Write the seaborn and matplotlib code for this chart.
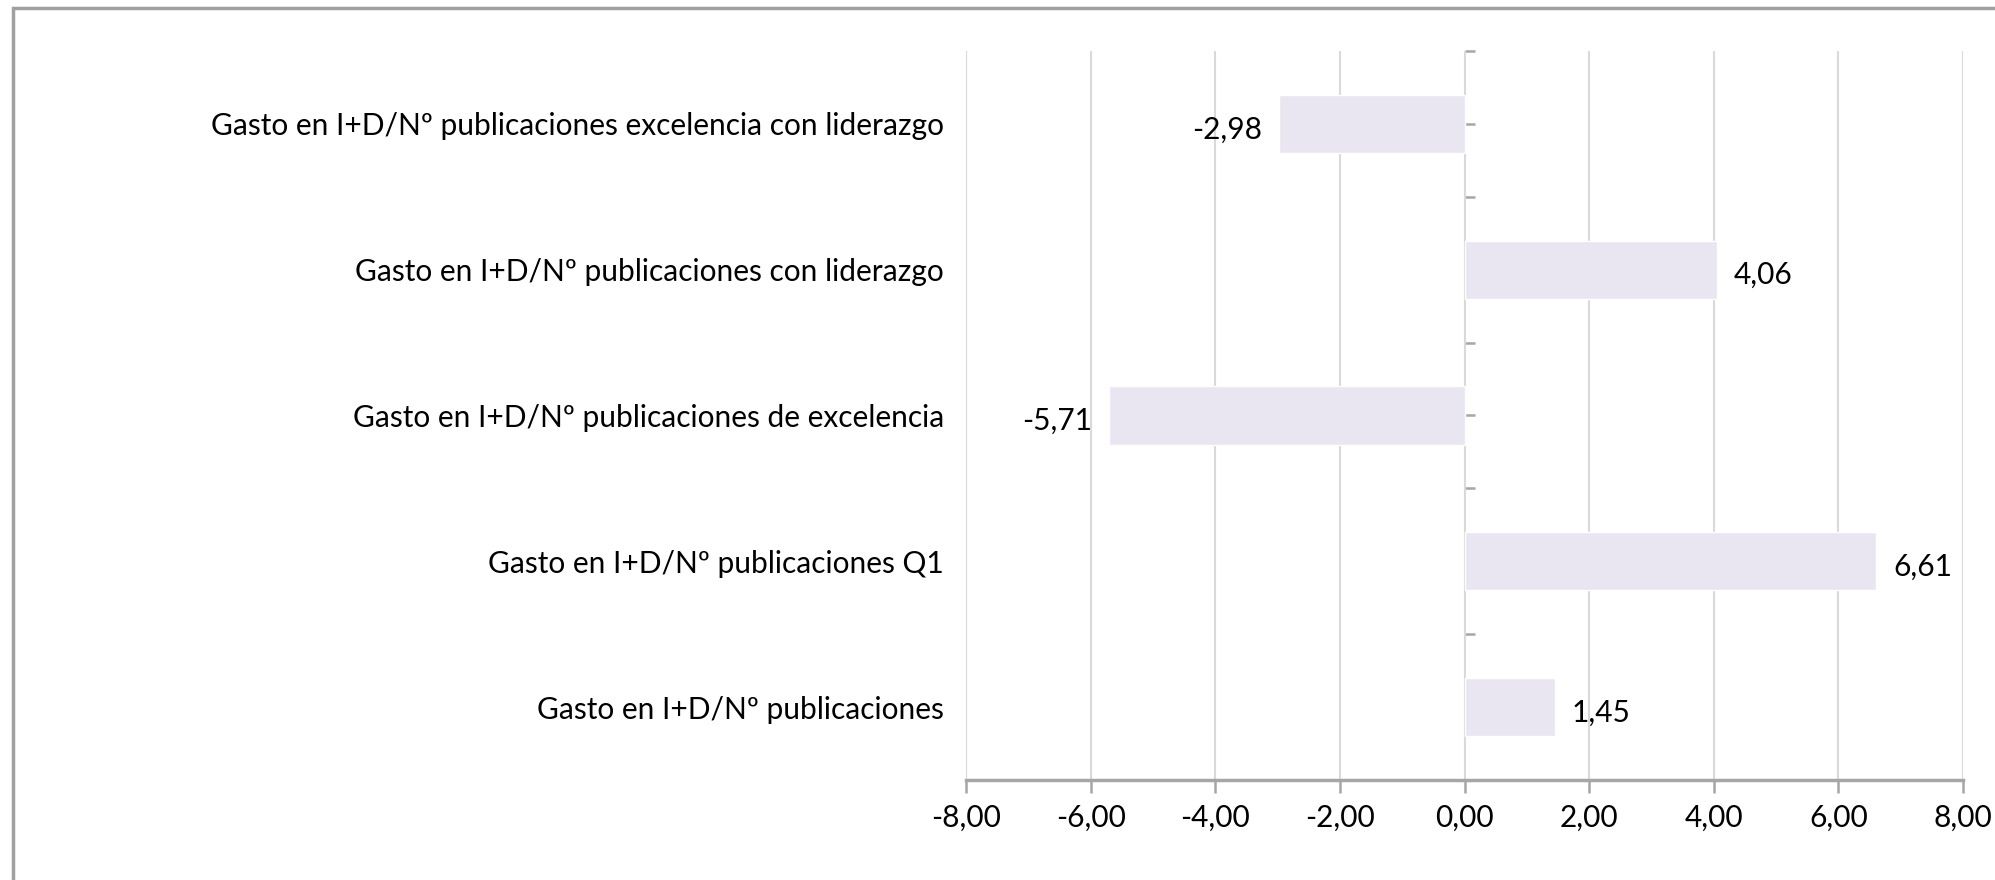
import matplotlib
matplotlib.use("Agg")
import matplotlib.pyplot as plt
import seaborn as sns
import pandas as pd
from matplotlib.patches import Rectangle

categories = [
    "Gasto en I+D/Nº publicaciones excelencia con liderazgo",
    "Gasto en I+D/Nº publicaciones con liderazgo",
    "Gasto en I+D/Nº publicaciones de excelencia",
    "Gasto en I+D/Nº publicaciones Q1",
    "Gasto en I+D/Nº publicaciones",
]
values = [-2.98, 4.06, -5.71, 6.61, 1.45]
xticks = [-8, -6, -4, -2, 0, 2, 4, 6, 8]
xtick_labels = ["-8,00", "-6,00", "-4,00", "-2,00", "0,00", "2,00", "4,00", "6,00", "8,00"]

sns.set_theme(style="white")
plt.rcParams["font.family"] = ["Lato", "DejaVu Sans"]

BAR = "#E9E5F1"
AXC = "#A6A6A6"
GRID = "#D9D9D9"
FS = 21.5

df = pd.DataFrame({"cat": categories, "val": values})

fig = plt.figure(figsize=(19.95, 8.8), dpi=100)
ax = fig.add_axes([966 / 1995, 1 - 780 / 880, (1963 - 966) / 1995, (780 - 51) / 880])

sns.barplot(data=df, y="cat", x="val", color=BAR, orient="h", width=0.40,
            saturation=1, ax=ax, zorder=2)

ax.set_xlim(-8, 8)
ax.set_ylim(4.5, -0.5)
ax.set_xticks(xticks, xtick_labels)
ax.set_xlabel("")
ax.set_ylabel("")

ax.grid(axis="x", color=GRID, linewidth=1.5, zorder=0)
ax.grid(axis="y", visible=False)
for s in ["top", "right", "left"]:
    ax.spines[s].set_visible(False)
ax.spines["bottom"].set_color(AXC)
ax.spines["bottom"].set_linewidth(2.5)
ax.tick_params(axis="x", direction="out", length=9, width=1.8, color=AXC,
               labelsize=FS, pad=8, bottom=True, labelcolor="black")
ax.tick_params(axis="y", length=0, labelsize=FS, pad=16, labelcolor="black")

# vertical axis at x = 0
sec = ax.secondary_yaxis(0.5)
sec.set_yticks([-0.5, 0, 0.5, 1, 1.5, 2, 2.5, 3, 3.5, 4, 4.5])
sec.set_yticklabels([])
sec.tick_params(axis="y", direction="out", length=7, width=1.8, color=AXC)
sec.spines["left"].set_color(AXC)
sec.spines["left"].set_linewidth(1.8)
for s in ["top", "right", "bottom"]:
    sec.spines[s].set_visible(False)

anns = ax.bar_label(ax.containers[0],
                    labels=[f"{v:.2f}".replace(".", ",") for v in values],
                    padding=12, fontsize=FS, color="black")
for a in anns:
    a.xyann = (a.xyann[0], a.xyann[1] - 4)

fig.patches.append(Rectangle((13 / 1995, -0.05), 1.2, 1 - 8 / 880 + 0.05,
                             transform=fig.transFigure, fill=False,
                             edgecolor="#A0A0A0", linewidth=2.5))

fig.savefig("out.png", dpi=100, facecolor="white")
